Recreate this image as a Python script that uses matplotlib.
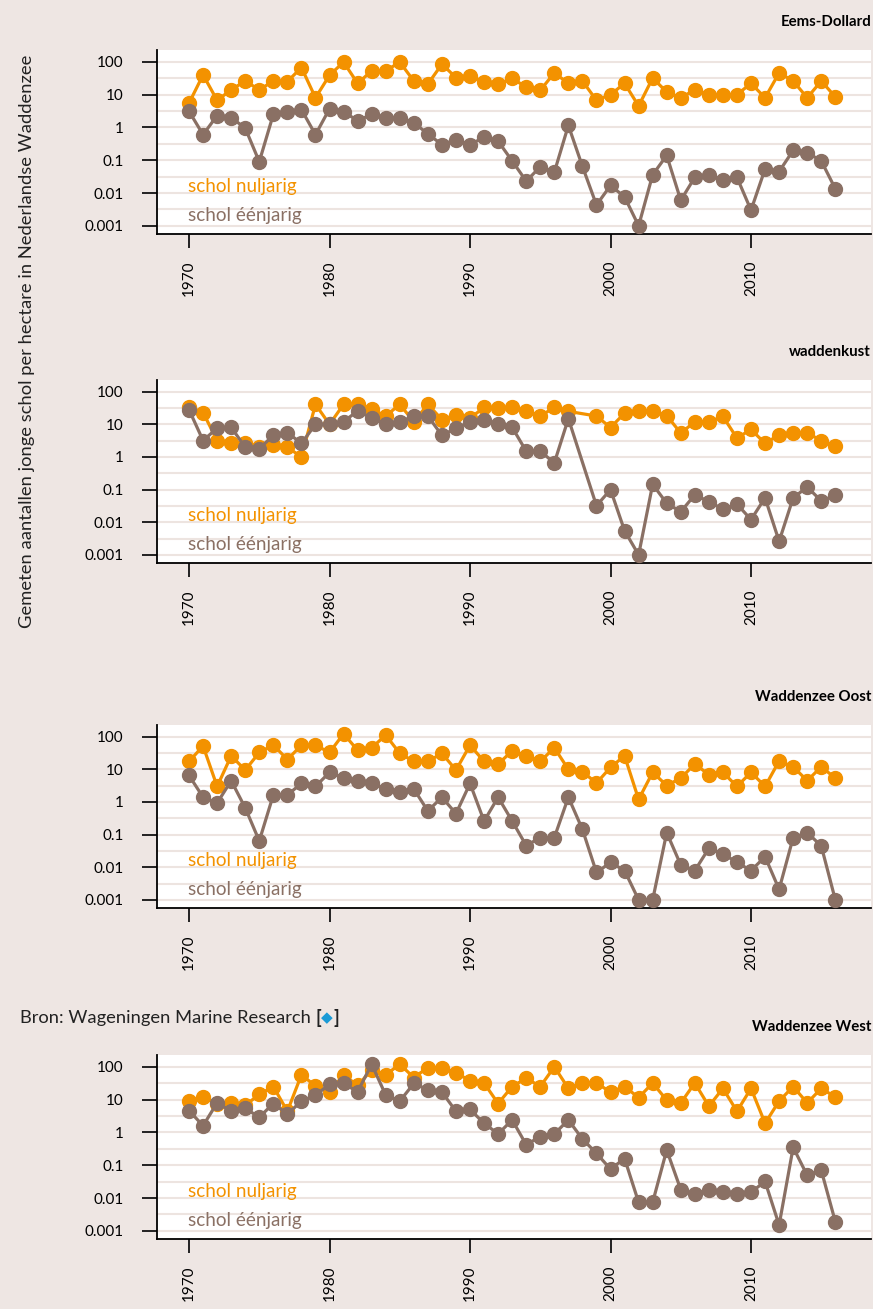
import numpy as np
import matplotlib
matplotlib.use("Agg")
import matplotlib.pyplot as plt

plt.rcParams['font.family'] = ['Lato', 'DejaVu Sans']

nan = float('nan')
years = list(range(1970, 2017))

# Eems-Dollard
ed_nul = [5.5, 40, 6.7, 14, 26, 14, 26, 25, 67, 8, 39, 98, 22, 53, 53, 98, 26, 21, 85, 33,
          38, 24, 21, 31, 17, 13.5, 46, 22, 26, 6.7, 10, 22, 4.5, 32, 12, 8, 14, 10, 10, 10,
          22, 8, 46, 26, 8, 26, 8.5]
ed_een = [3.1, 0.6, 2.3, 2.0, 0.95, 0.09, 2.5, 3, 3.5, 0.6, 3.7, 3, 1.6, 2.5, 2.0, 2.0, 1.4,
          0.63, 0.3, 0.42, 0.3, 0.5, 0.38, 0.095, 0.023, 0.063, 0.043, 1.15, 0.065, 0.0043,
          0.017, 0.0076, 0.001, 0.036, 0.14, 0.006, 0.03, 0.036, 0.025, 0.03, 0.003, 0.054,
          0.045, 0.2, 0.17, 0.095, 0.0135]

# waddenkust
wk_nul = [35, 23, 3.2, 2.6, 2.7, 2.0, 2.4, 2.0, 1.0, 41, 10, 41, 41, 29, 18, 41, 12, 41, 14,
          19.5, 15.5, 33, 31, 33, 26, 18, 33, 25, nan, 18, 8, 22, 26, 26, 18.6, 5.4, 12, 12,
          17.5, 3.8, 7, 2.6, 4.8, 5.4, 5.4, 3.2, 2.1]
wk_een = [28, 3.2, 7.6, 8.1, 2.0, 1.8, 4.6, 5.6, 2.6, 10, 10, 12, 26, 15.5, 10, 12, 18, 18,
          4.6, 7.6, 12, 14, 10, 8.1, 1.5, 1.5, 0.66, 15, nan, 0.032, 0.1, 0.0055, 0.001, 0.145,
          0.038, 0.021, 0.069, 0.043, 0.025, 0.036, 0.012, 0.056, 0.0026, 0.056, 0.12, 0.045,
          0.067]

# Waddenzee Oost
wo_nul = [17.5, 52, 3.0, 26, 9.5, 33, 56, 20, 55, 55, 33, 123, 38.5, 46, 112, 31, 17.5, 17.5,
          31, 9.5, 55, 17.5, 14.5, 37, 26, 17.5, 46, 10, 8.5, 3.8, 11.5, 26, 1.2, 8.1, 3.2, 5.4,
          14.5, 6.9, 8.1, 3.0, 8.1, 3.0, 18, 12, 4.5, 12, 5.4]
wo_een = [6.5, 1.4, 0.93, 4.5, 0.66, 0.064, 1.65, 1.65, 3.7, 3.0, 8.1, 5.4, 4.5, 3.7, 2.5, 2.0,
          2.5, 0.53, 1.4, 0.44, 3.7, 0.26, 1.4, 0.26, 0.046, 0.081, 0.081, 1.4, 0.145, 0.0069,
          0.014, 0.0079, 0.001, 0.001, 0.115, 0.0117, 0.0079, 0.038, 0.026, 0.014, 0.0079,
          0.021, 0.0021, 0.081, 0.115, 0.045, 0.001]

# Waddenzee West
ww_nul = [9, 12, 7.4, 8, 6.7, 14.4, 25, 4.4, 57, 26, 17, 57, 27, 80, 57, 120, 47, 95, 95, 67,
          37, 32, 7.6, 25, 45, 25, 100, 22, 32, 32, 17, 25, 11.5, 32, 9.6, 7.9, 32, 6.3, 22,
          4.4, 22, 1.9, 9, 25, 7.9, 22, 12]
ww_een = [4.6, 1.6, 8, 4.4, 5.4, 2.9, 7.6, 3.6, 9, 13.7, 29, 31, 17.4, 120, 13.7, 9, 31, 20,
          17, 4.4, 5, 1.9, 0.9, 2.4, 0.42, 0.75, 0.9, 2.4, 0.63, 0.23, 0.076, 0.16, 0.0074,
          0.0074, 0.29, 0.018, 0.013, 0.018, 0.015, 0.013, 0.015, 0.032, 0.0015, 0.35, 0.049,
          0.07, 0.0019]

panel_titles = ["Eems-Dollard", "waddenkust", "Waddenzee Oost", "Waddenzee West"]
panel_data = [(ed_nul, ed_een), (wk_nul, wk_een), (wo_nul, wo_een), (ww_nul, ww_een)]
series_labels = ["schol nuljarig", "schol éénjarig"]
ytick_vals = [0.001, 0.01, 0.1, 1, 10, 100]
ytick_labels = ["0.001", "0.01", "0.1", "1", "10", "100"]
xtick_vals = [1970, 1980, 1990, 2000, 2010]
ylabel = "Gemeten aantallen jonge schol per hectare in Nederlandse Waddenzee"

BG = "#eee6e3"
GRID = "#ede4e0"
ORANGE = "#f39200"
BROWN = "#8a7064"

W, H = 873, 1309
fig = plt.figure(figsize=(W / 100, H / 100), dpi=100, facecolor=BG)

left_px, right_px = 157, 871
panels_px = [(50, 234), (380, 563), (725, 908), (1055, 1239)]

for i, (top, bot) in enumerate(panels_px):
    ax = fig.add_axes([left_px / W, 1 - bot / H, (right_px - left_px) / W, (bot - top) / H])
    ax.set_facecolor("white")
    ax.set_yscale("log")
    ax.set_ylim(10 ** -3.25, 10 ** 2.36)
    ax.set_xlim(1967.72, 2018.54)
    for k in range(-6, 5):
        ax.axhline(10 ** (k / 2), color=GRID, lw=1.5, zorder=1)
    nul, een = panel_data[i]
    for vals, col in ((nul, ORANGE), (een, BROWN)):
        y = np.array(vals, dtype=float)
        x = np.array(years)
        m = ~np.isnan(y)
        ax.plot(x[m], y[m], color=col, lw=2.3, marker="o", ms=10, zorder=3,
                solid_capstyle="round")
    ax.set_yticks(ytick_vals)
    ax.set_yticklabels(ytick_labels)
    ax.yaxis.set_minor_locator(matplotlib.ticker.NullLocator())
    ax.set_xticks(xtick_vals)
    ax.set_xticklabels([str(v) for v in xtick_vals], rotation=90)
    ax.tick_params(axis="y", length=11, width=1.2, pad=13, labelsize=11, colors="black")
    ax.tick_params(axis="x", length=10, width=1.2, pad=9, labelsize=11, colors="black")
    for s in ("top", "right"):
        ax.spines[s].set_visible(False)
    for s in ("left", "bottom"):
        ax.spines[s].set_linewidth(1.3)
        ax.spines[s].set_color("black")
    ax.text(1969.9, 10 ** (-3.25 + 0.26 * 5.61), series_labels[0], color=ORANGE,
            fontsize=13.6, va="center", ha="left", zorder=4)
    ax.text(1969.9, 10 ** (-3.25 + 0.103 * 5.61), series_labels[1], color=BROWN,
            fontsize=13.6, va="center", ha="left", zorder=4)
    ax.text(1.0, 1 + 28 / (bot - top), panel_titles[i], transform=ax.transAxes,
            ha="right", va="center", fontsize=10.8, fontweight="bold", color="black")

fig.text(27 / W, 1 - 341 / H, ylabel, rotation=90, ha="center", va="center",
         fontsize=13.2, color="#222222")

t1 = fig.text(20 / W, 1 - 1018 / H, "Bron: Wageningen Marine Research ", ha="left",
              va="center", fontsize=13.2, color="#222222")
t2 = fig.text(0, 0, "[", fontsize=13.2, fontweight="bold", color="#222222", va="center")
t3 = fig.text(0, 0, "\u25C6", fontsize=11, color="#1a9ad6", va="center",
              family=["DejaVu Sans"])
t4 = fig.text(0, 0, "]", fontsize=13.2, fontweight="bold", color="#222222", va="center")
fig.canvas.draw()
r = fig.canvas.get_renderer()
prev = t1
for t in (t2, t3, t4):
    bb = prev.get_window_extent(renderer=r)
    t.set_position((bb.x1 / (W), 1 - 1018 / H))
    fig.canvas.draw()
    prev = t

fig.savefig("out.png", dpi=100, facecolor=BG)
